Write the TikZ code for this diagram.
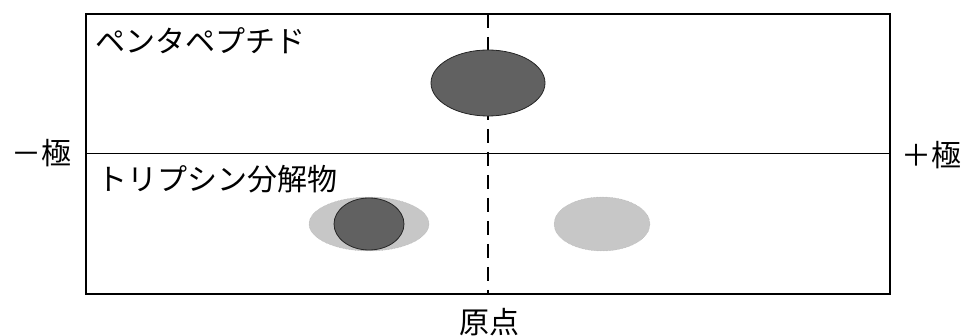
\documentclass[tikz,border=0pt]{standalone}
\usepackage{fontspec}
\newfontfamily\jpfont{Noto Sans CJK JP}
\usetikzlibrary{calc}
\tikzset{>=latex}
\tikzstyle{spot dark}=[draw=black!85,fill=black!62,line width=0.8]
\tikzstyle{spot light}=[draw=black!30,fill=black!22,line width=0.5,densely dotted]
\tikzstyle{label jp}=[inner sep=0,font=\jpfont\fontsize{30}{30}\selectfont]

\begin{document}
\begin{tikzpicture}[x=1pt,y=-1pt]
  \useasboundingbox (0,0) rectangle (964,336);
  \def\Lx{86}
  \def\Rx{890}
  \def\Ty{14}
  \def\By{294}
  \def\Ox{488}
  \def\My{153}
  \coordinate (TL) at (\Lx,\Ty);
  \coordinate (BR) at (\Rx,\By);
  \coordinate (ML) at (\Lx,\My);
  \coordinate (MR) at (\Rx,\My);
  \coordinate (OT) at (\Ox,\Ty);
  \coordinate (OB) at (\Ox,\By);

  % PLATE
  \draw[thin] (ML) -- (MR);
  \draw[line width=1.2,dash pattern=on 14 off 9] (OT) -- (OB);

  % SPOTS
  \fill[spot light] (369,224) ellipse (60 and 27);
  \fill[spot light] (602,224) ellipse (48 and 27);
  \draw[spot dark] (369,224) ellipse (35 and 26);
  \draw[spot dark] (\Ox,83) ellipse (57 and 33);

  \draw[line width=1.6] (TL) rectangle (BR);

  % LABELS
  \node[label jp,anchor=west] (penta) at (95,41) {ペンタペプチド};
  \node[label jp,anchor=west] (trypsin) at (97,179) {トリプシン分解物};
  \node[label jp,anchor=east] (minus) at ($(ML)+(-14,0)$) {－極};
  \node[label jp,anchor=west] (plus) at ($(MR)+(11,2)$) {＋極};
  \node[label jp,anchor=north] (origin) at ($(OB)+(1,14)$) {原点};
\end{tikzpicture}
\end{document}
